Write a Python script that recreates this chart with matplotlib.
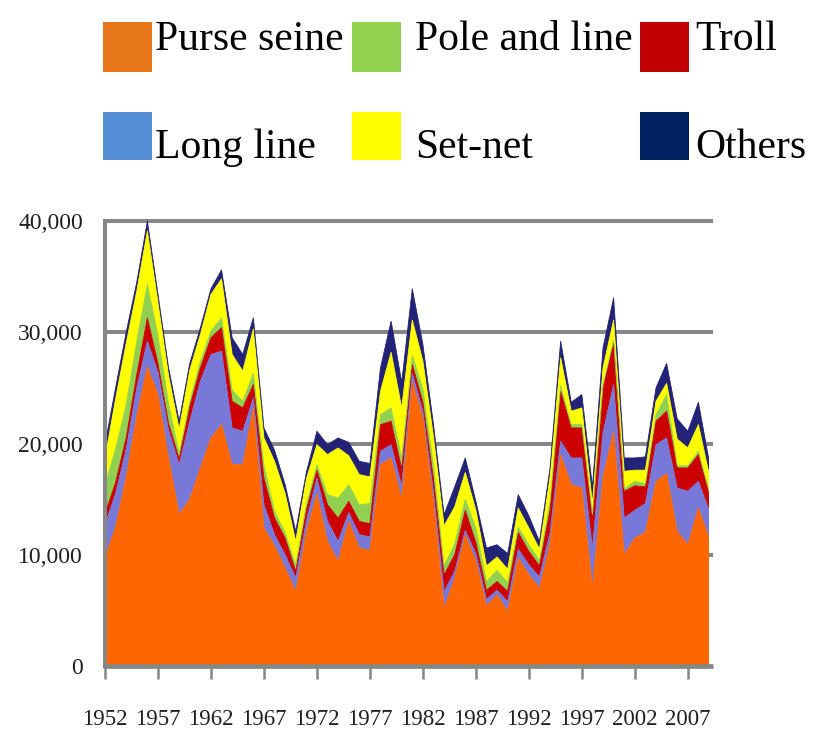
import matplotlib
matplotlib.use('Agg')
import matplotlib.pyplot as plt
from matplotlib.patches import Rectangle
import numpy as np

# ---------------- data (thousand tonnes) ----------------
years = list(range(1952, 2010))
purse_seine = [9.7, 12.5, 17.0, 22.5, 26.9, 24.4, 18.7, 13.6, 15.0, 17.8,
               20.5, 21.7, 18.1, 18.1, 23.2, 12.4, 10.8, 8.8, 6.7, 12.0,
               15.5, 11.2, 9.4, 13.0, 10.6, 10.4, 18.1, 18.7, 15.0, 25.5,
               22.3, 14.8, 5.2, 7.9, 11.8, 9.4, 5.4, 6.4, 4.9, 9.7,
               8.2, 7.0, 11.0, 19.0, 16.3, 16.0, 7.0, 17.0, 21.1, 10.0,
               11.5, 12.0, 16.6, 17.3, 12.1, 10.9, 14.2, 11.5]
long_line = [3.0, 3.0, 2.5, 2.5, 2.3, 2.0, 2.5, 4.5, 7.0, 7.8,
             7.5, 6.6, 3.3, 3.0, 0.9, 2.1, 1.0, 1.2, 1.2, 1.0,
             1.4, 1.8, 1.8, 0.8, 1.2, 1.2, 1.2, 1.2, 1.2, 0.8,
             0.6, 0.8, 1.5, 0.6, 0.4, 0.7, 0.6, 0.4, 0.9, 0.8,
             0.9, 1.0, 1.0, 1.2, 2.4, 2.7, 3.6, 4.0, 4.2, 3.3,
             2.5, 2.6, 3.3, 3.2, 3.9, 4.8, 2.4, 2.5]
troll = [1.0, 1.0, 1.0, 1.2, 2.1, 0.8, 0.6, 0.5, 1.3, 1.2,
         1.5, 2.1, 2.4, 2.1, 1.2, 2.4, 1.5, 1.5, 0.6, 1.0,
         0.7, 1.5, 2.1, 1.0, 1.2, 1.2, 2.4, 2.1, 1.5, 0.8,
         0.8, 1.2, 1.5, 1.5, 1.8, 1.0, 0.8, 0.8, 0.9, 1.5,
         1.2, 1.0, 2.0, 4.5, 2.7, 2.7, 2.7, 4.0, 3.7, 2.4,
         2.2, 1.5, 2.1, 2.4, 1.8, 2.1, 2.4, 1.5]
pole_and_line = [2.6, 3.0, 3.0, 3.0, 3.0, 2.5, 1.8, 0.5, 0.5, 0.6,
                 0.6, 0.9, 1.0, 0.6, 1.0, 1.2, 0.6, 0.5, 0.6, 0.5,
                 0.5, 0.9, 1.8, 1.5, 1.5, 1.8, 0.9, 1.2, 1.0, 0.8,
                 1.2, 1.3, 0.8, 1.0, 1.0, 1.3, 0.8, 1.0, 0.8, 0.5,
                 0.6, 0.5, 0.8, 0.5, 0.3, 0.3, 0.3, 0.3, 0.3, 0.2,
                 0.4, 0.3, 0.6, 1.5, 0.2, 0.2, 0.3, 0.3]
set_net = [2.4, 4.5, 5.5, 4.5, 4.8, 3.0, 2.5, 2.2, 2.8, 2.4,
           3.3, 3.5, 3.2, 2.7, 4.0, 2.4, 4.5, 3.5, 2.1, 2.3,
           1.8, 3.6, 4.5, 2.6, 2.7, 2.4, 2.1, 5.0, 4.5, 3.2,
           2.5, 2.5, 3.6, 3.3, 2.4, 1.6, 1.4, 1.2, 1.2, 1.7,
           1.5, 1.0, 2.2, 2.5, 1.2, 1.5, 1.0, 1.5, 1.8, 1.6,
           1.0, 1.2, 1.2, 1.0, 2.4, 1.6, 2.4, 1.5]
others = [1.2, 1.0, 1.0, 0.8, 0.9, 0.7, 0.7, 0.7, 0.6, 0.6,
          0.5, 0.8, 1.5, 1.5, 1.0, 0.9, 1.0, 0.8, 0.9, 0.6,
          1.2, 0.9, 0.9, 1.2, 1.2, 1.2, 2.1, 2.8, 2.3, 2.8,
          1.5, 1.1, 1.0, 1.8, 1.3, 0.8, 1.6, 1.1, 1.4, 1.2,
          1.1, 0.7, 0.8, 1.5, 0.8, 1.2, 1.5, 1.8, 2.0, 1.2,
          1.1, 1.2, 1.2, 1.8, 1.8, 1.5, 2.0, 1.2]

series_names = ['Purse seine', 'Long line', 'Troll', 'Pole and line', 'Set-net', 'Others']
series_values = [purse_seine, long_line, troll, pole_and_line, set_net, others]
area_colors = ['#FF6600', '#7878D8', '#CC0000', '#92D050', '#FFFF00', '#222277']

legend_order = ['Purse seine', 'Pole and line', 'Troll', 'Long line', 'Set-net', 'Others']
legend_colors = {'Purse seine': '#E8761A', 'Pole and line': '#92D050', 'Troll': '#C00000',
                 'Long line': '#558ED5', 'Set-net': '#FFFF00', 'Others': '#002060'}

y_ticks = [0, 10000, 20000, 30000, 40000]
y_tick_labels = ['0', '10,000', '20,000', '30,000', '40,000']
x_tick_years = years[::5]
x_tick_labels = [str(y) for y in x_tick_years]

# ---------------- figure ----------------
W, H = 836, 742
fig = plt.figure(figsize=(W / 100, H / 100), dpi=100)
SERIF = ['Liberation Serif', 'DejaVu Serif']
GRAY = '#868686'

x_left, x_right = 105, 709
y_zero, y_top40 = 666, 221
ymax = 42000
ppu = (y_zero - y_top40) / 40000.0
top_px = y_zero - ymax * ppu
ax = fig.add_axes([x_left / W, 1 - y_zero / H, (x_right - x_left) / W, (y_zero - top_px) / H])

vals = [np.array(v) * 1000 for v in series_values]
ax.stackplot(years, *vals, colors=area_colors, linewidth=0.4, zorder=2)
cum = np.zeros(len(years))
for v, c in zip(vals, area_colors):
    cum = cum + v
    ax.plot(years, cum, color=c, lw=0.6, zorder=2.1)

ax.set_xlim(years[0], years[-1])
ax.set_ylim(0, ymax)

for v in y_ticks[1:]:
    ax.plot([-0.004, 1.007], [v, v], transform=ax.get_yaxis_transform(), color=GRAY,
            lw=2.9, clip_on=False, zorder=0.5, solid_capstyle='butt')
ax.plot([-0.004, 1.007], [0, 0], transform=ax.get_yaxis_transform(), color=GRAY,
        lw=3.4, clip_on=False, zorder=3, solid_capstyle='butt')

for s in ['top', 'right', 'bottom']:
    ax.spines[s].set_visible(False)
ax.spines['left'].set_color(GRAY)
ax.spines['left'].set_linewidth(2.9)
ax.spines['left'].set_bounds(0, 40000)
ax.spines['left'].set_zorder(3)

ax.set_yticks(y_ticks)
ax.set_yticklabels(y_tick_labels, family=SERIF, fontsize=17, color='#202020')
ax.tick_params(axis='y', length=0, pad=16)
ax.set_xticks(x_tick_years)
ax.set_xticklabels(x_tick_labels, family=SERIF, fontsize=16.5, color='#202020')
ax.tick_params(axis='x', length=9, width=1.8, color=GRAY, pad=22, direction='out')
ax.set_facecolor('none')

# ---------------- legend ----------------
sw_cols = [103, 352, 640]
tx_cols = [155, 415, 695]
sw_rows = [(22, 72), (112, 160)]
tx_base = [50, 158]
for k, name in enumerate(legend_order):
    r, c = divmod(k, 3)
    y_a, y_b = sw_rows[r]
    fig.add_artist(Rectangle((sw_cols[c] / W, 1 - y_b / H), 49 / W, (y_b - y_a) / H,
                             transform=fig.transFigure, facecolor=legend_colors[name],
                             edgecolor='none'))
    fig.text(tx_cols[c] / W, 1 - tx_base[r] / H, name, family=SERIF, fontsize=30,
             va='baseline', ha='left', color='black')

fig.savefig('out.png', dpi=100)
